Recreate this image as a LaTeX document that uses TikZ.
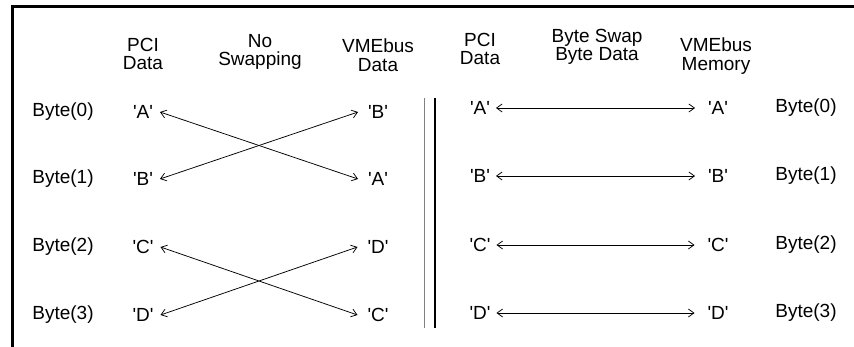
\documentclass[tikz,border=0pt]{standalone}
\usepackage{fontspec}
\setmainfont{Liberation Sans}[Ligatures=TeXOff]
\usetikzlibrary{arrows.meta}
\begin{document}
\begin{tikzpicture}[x=1pt,y=-1pt,
  txt/.style={font=\fontsize{19}{18.5}\selectfont, inner sep=0pt},
  hdr/.style={txt, align=center},
  lval/.style={txt, outer xsep=7pt},
  rval/.style={txt, outer xsep=10pt},
  pval/.style={txt, outer xsep=6pt},
  mval/.style={txt, outer xsep=13pt},
  link/.style={{Straight Barb[length=5.5pt,width=8pt]}-{Straight Barb[length=5.5pt,width=8pt]}, line width=0.75pt}]
\useasboundingbox (0,0) rectangle (854,347);
% frame
\draw[line width=3pt] (12,347) -- (12,7) -- (854,7);
% separator
\draw[line width=1.6pt, gray] (424.5,98) -- (424.5,328);
\draw[line width=1.1pt] (435,98) -- (435,328);
% headers
\node[hdr] (h1) at (143,54) {PCI\\Data};
\node[hdr] (h2) at (260,52) {No\\Swapping};
\node[hdr] (h3) at (378,55) {VMEbus\\Data};
\node[hdr] (h4) at (480,49) {PCI\\Data};
\node[hdr] (h5) at (597,47) {Byte Swap\\Byte Data};
\node[hdr] (h6) at (716,56) {VMEbus\\Memory};
% left labels
\node[txt] (lb0) at (63,112) {Byte(0)};
\node[txt] (lb1) at (63,179) {Byte(1)};
\node[txt] (lb2) at (63,247) {Byte(2)};
\node[txt] (lb3) at (63,315) {Byte(3)};
% left PCI data
\node[lval] (la0) at (143,112) {'A'};
\node[lval] (la1) at (143,179) {'B'};
\node[lval] (la2) at (143,247) {'C'};
\node[lval] (la3) at (143,315) {'D'};
% left VMEbus data
\node[rval] (lv0) at (378,112) {'B'};
\node[rval] (lv1) at (378,179) {'A'};
\node[rval] (lv2) at (378,247) {'D'};
\node[rval] (lv3) at (378,315) {'C'};
\draw[link] (la0.east) -- (lv1.west);
\draw[link] (la1.east) -- (lv0.west);
\draw[link] (la2.east) -- (lv3.west);
\draw[link] (la3.east) -- (lv2.west);
% right side
\node[pval] (ra0) at (480,108) {'A'};
\node[pval] (ra1) at (480,176) {'B'};
\node[pval] (ra2) at (480,245) {'C'};
\node[pval] (ra3) at (480,313) {'D'};
\node[mval] (rm0) at (718,108) {'A'};
\node[mval] (rm1) at (718,176) {'B'};
\node[mval] (rm2) at (718,245) {'C'};
\node[mval] (rm3) at (718,313) {'D'};
\draw[link] (ra0.east) -- (rm0.west);
\draw[link] (ra1.east) -- (rm1.west);
\draw[link] (ra2.east) -- (rm2.west);
\draw[link] (ra3.east) -- (rm3.west);
\node[txt] (rb0) at (806,108) {Byte(0)};
\node[txt] (rb1) at (806,176) {Byte(1)};
\node[txt] (rb2) at (806,245) {Byte(2)};
\node[txt] (rb3) at (806,313) {Byte(3)};
\end{tikzpicture}
\end{document}
